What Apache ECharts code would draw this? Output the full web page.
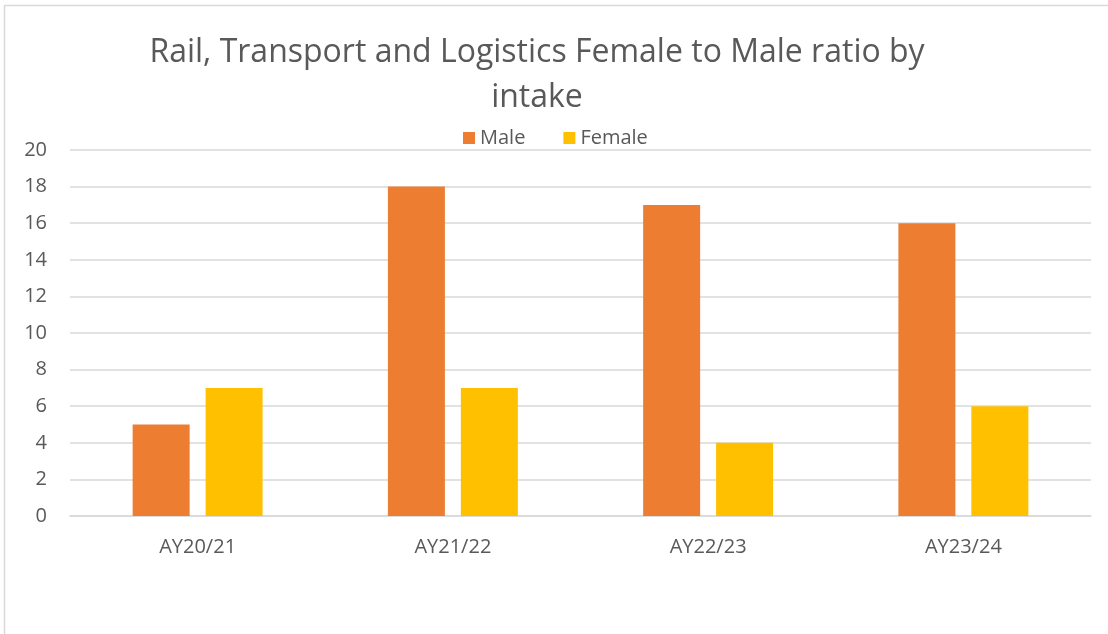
<!DOCTYPE html>
<html>
<head>
    <meta charset="utf-8">
    <script src="https://cdn.jsdelivr.net/npm/echarts@6/dist/echarts.min.js"></script>
    <style>
        html, body { margin: 0; padding: 0; background: #fff; }
        #main { width: 1108px; height: 634px; }
    </style>
</head>
<body>
<div id="main"></div>
<script>
  // 数据
  var intakes = ['AY20/21', 'AY21/22', 'AY22/23', 'AY23/24'];
  var maleValues = [5, 18, 17, 16];
  var femaleValues = [7, 7, 4, 6];
  var yTicks = [0, 20, 2]; // min, max, interval

  var myChart = echarts.init(document.getElementById('main'));
  var font = '"Open Sans", "Liberation Sans", sans-serif';
  var option = {
    backgroundColor: '#fff',
    animation: false,
    graphic: [{
      type: 'rect',
      shape: { x: 4.5, y: 5.5, width: 1300, height: 1000 },
      style: { fill: 'none', stroke: '#d9d9d9', lineWidth: 1.5 },
      silent: true
    }],
    title: {
      text: 'Rail, Transport and Logistics Female to Male ratio by\nintake',
      left: 532,
      textAlign: 'center',
      top: 25,
      textStyle: {
        fontFamily: font,
        fontWeight: 'normal',
        fontSize: 32,
        lineHeight: 45,
        color: '#595959'
      }
    },
    legend: {
      data: ['Male', 'Female'],
      top: 123,
      left: 458,
      itemWidth: 12,
      itemHeight: 12,
      itemGap: 38,
      icon: 'rect',
      textStyle: { fontFamily: font, fontSize: 20, color: '#595959' }
    },
    grid: { left: 70, right: 17, top: 150, bottom: 118 },
    xAxis: {
      type: 'category',
      data: intakes,
      axisLine: { lineStyle: { color: '#d9d9d9', width: 1.5 } },
      axisTick: { show: false },
      axisLabel: { margin: 21, fontFamily: font, fontSize: 20, color: '#595959' }
    },
    yAxis: {
      type: 'value',
      min: yTicks[0],
      max: yTicks[1],
      interval: yTicks[2],
      axisLine: { show: false },
      axisTick: { show: false },
      splitLine: { lineStyle: { color: '#d9d9d9', width: 1.5 } },
      axisLabel: { margin: 23, fontFamily: font, fontSize: 20, color: '#595959' }
    },
    series: [{
      name: 'Male',
      type: 'bar',
      data: maleValues,
      barWidth: 57,
      barGap: '28%',
      itemStyle: { color: '#ED7D31' }
    }, {
      name: 'Female',
      type: 'bar',
      data: femaleValues,
      barWidth: 57,
      itemStyle: { color: '#FFC000' }
    }]
  };
  myChart.setOption(option);
</script>
</body>
</html>
